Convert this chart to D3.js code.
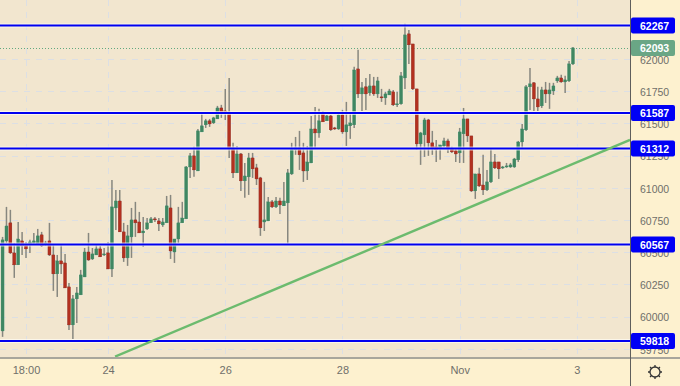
<!DOCTYPE html>
<html><head><meta charset="utf-8">
<script src="https://cdn.jsdelivr.net/npm/d3@7"></script>
<style>
html,body{margin:0;padding:0;background:#fdf1cf;overflow:hidden}
svg{display:block}
text{font-family:"Liberation Sans",Arial,sans-serif}
</style></head><body><div id="chart"></div>
<script>
const opens=[59896,60595,60735,60502,60409,60595,60564,60572,60579,60572,60642,60572,60595,60486,60339,60440,60424,60238,59943,60145,60176,60315,60509,60455,60486,60533,60486,60502,60377,60851,60905,60665,60463,60626,60758,60742,60657,60688,60735,60766,60750,60719,60735,60851,60509,60610,60735,60766,61169,61255,61138,61441,61496,61527,61511,61542,61627,61604,61596,61317,61123,61270,61061,61092,61239,61162,61084,60742,60750,60898,60859,60905,60867,60890,61115,61302,61317,61278,61138,61200,61464,61433,61581,61527,61565,61472,61464,61573,61441,61488,61496,61930,61736,61791,61744,61798,61736,61713,61705,61728,61752,61651,61659,61860,62202,62124,61775,61348,61418,61534,61356,61325,61317,61332,61371,61309,61294,61278,61426,61542,61410,60983,61115,61029,60991,61053,61208,61208,61162,61169,61169,61169,61224,61363,61457,61791,61822,61697,61643,61767,61736,61759,61837,61860,61829,61837,61969];
const closes=[60603,60711,60502,60409,60610,60556,60533,60587,60595,60634,60556,60579,60486,60339,60440,60416,60230,59943,60145,60191,60331,60509,60447,60494,60533,60471,60494,60377,60859,60905,60665,60463,60634,60758,60735,60657,60672,60735,60766,60758,60727,60742,60867,60517,60610,60735,60773,61169,61255,61146,61449,61488,61527,61503,61550,61627,61596,61589,61309,61123,61270,61061,61099,61239,61154,61076,60696,60758,60898,60859,60905,60874,60905,61123,61309,61317,61263,61138,61208,61464,61433,61527,61519,61565,61457,61464,61573,61441,61496,61511,61922,61736,61783,61736,61798,61736,61837,61705,61736,61759,61651,61659,61876,62194,62117,61775,61348,61433,61534,61356,61317,61302,61340,61371,61309,61286,61270,61441,61542,61410,60983,61115,61022,60991,61053,61208,61162,61154,61169,61177,61185,61231,61363,61464,61791,61814,61697,61635,61767,61736,61767,61798,61860,61829,61845,61969,62093];
const highs=[60626,60859,60836,60579,60742,60665,60587,60603,60657,60688,60665,60595,60735,60564,60486,60564,60494,60269,60176,60238,60370,60540,60657,60540,60564,60556,60540,60587,61068,60991,60991,60735,60719,60851,60898,60820,60781,60773,60781,60781,60773,60773,60944,60952,60610,60859,60898,61177,61278,61325,61464,61589,61542,61542,61558,61643,61651,61775,61860,61356,61332,61278,61200,61278,61278,61193,61092,61053,60936,60913,60936,60929,61053,61154,61356,61402,61449,61356,61332,61565,61635,61620,61604,61573,61573,61480,61596,61612,61674,61589,61946,62078,61829,61860,61891,61868,61868,61775,61752,61775,61767,61752,61907,62280,62233,62124,61775,61441,61550,61542,61449,61379,61340,61395,61387,61325,61309,61472,61627,61542,61410,61115,61162,61263,61146,61309,61270,61208,61177,61200,61200,61239,61371,61503,61806,61938,61829,61791,61791,61829,61822,61822,61876,61884,61876,61992,62101];
const lows=[59850,60579,60494,60308,60409,60486,60463,60502,60572,60572,60548,60556,60478,60207,60160,60339,60230,59904,59834,59958,60176,60315,60440,60447,60486,60471,60478,60377,60315,60680,60665,60432,60401,60463,60626,60657,60548,60680,60735,60742,60672,60704,60735,60455,60424,60579,60735,60766,61084,61092,61138,61441,61472,61480,61503,61542,61550,61534,61239,61084,61123,60983,60929,60952,61084,61029,60634,60672,60750,60851,60851,60804,60867,60572,61107,61263,61146,61053,61068,61200,61317,61395,61519,61527,61449,61457,61457,61426,61332,61387,61472,61705,61604,61612,61721,61721,61705,61674,61651,61728,61643,61635,61651,61775,61969,61767,61302,61185,61247,61255,61263,61208,61224,61325,61278,61278,61208,61200,61200,61363,60975,60921,61014,60952,60983,61045,61154,61076,61154,61162,61162,61162,61208,61309,61449,61612,61604,61604,61627,61666,61620,61728,61822,61822,61744,61829,61961];

const levels=[62267,61587,61312,60567,59818];
const lastPrice=62093;
const yTicks=[59750,60000,60250,60500,60750,61000,61250,61500,61750,62000];
const xTickPos=[6,27,57,87,117,147];
const xTickLabels=["18:00","24","26","28","Nov","3"];
const trendIdx=[28.8,160.6];
const trendPrice=[59697,61379];

const W=680,H=386,plotW=630,plotH=357;
const svg=d3.select("#chart").append("svg").attr("width",W).attr("height",H);
const x=d3.scaleLinear().domain([-0.655,160.6]).range([0,plotW]);
const y=d3.scaleLinear().domain([59818,62267]).range([341,25.5]);

svg.append("rect").attr("width",W).attr("height",H).attr("fill","#fdf1cf");
svg.append("rect").attr("width",plotW).attr("height",plotH).attr("fill","#f2e6cf");
svg.append("defs").append("clipPath").attr("id","plot").append("rect").attr("width",plotW).attr("height",plotH);
const plot=svg.append("g").attr("clip-path","url(#plot)");

const grid="#dcdfe4";
plot.append("g").selectAll("line").data(yTicks).join("line")
  .attr("x1",0).attr("x2",plotW).attr("y1",d=>Math.round(y(d))-0.5).attr("y2",d=>Math.round(y(d))-0.5)
  .attr("stroke",grid).attr("stroke-dasharray","6 6");
plot.append("g").selectAll("line").data(xTickPos).join("line")
  .attr("x1",d=>Math.round(x(d))+0.5).attr("x2",d=>Math.round(x(d))+0.5).attr("y1",0).attr("y2",plotH)
  .attr("stroke",grid).attr("stroke-dasharray","6 6");

plot.append("line").attr("x1",0).attr("x2",plotW).attr("y1",Math.round(y(lastPrice))+0.5).attr("y2",Math.round(y(lastPrice))+0.5)
  .attr("stroke","#62a97f").attr("stroke-dasharray","1 2");

const idx=d3.range(opens.length);
const isUp=i=>closes[i]>=opens[i];
plot.append("g").selectAll("rect").data(idx).join("rect")
  .attr("x",i=>x(i)-2.5).attr("width",5)
  .attr("y",i=>y(Math.max(opens[i],closes[i]))-1)
  .attr("height",i=>Math.abs(y(opens[i])-y(closes[i]))+2)
  .attr("fill","#fbf6ea").attr("opacity",0.5);
plot.append("g").selectAll("line").data(idx).join("line")
  .attr("x1",i=>x(i)).attr("x2",i=>x(i)).attr("y1",i=>y(highs[i])).attr("y2",i=>y(lows[i]))
  .attr("stroke","#87877f").attr("stroke-width",1.5);

const levelG=plot.append("g");
levelG.selectAll("line.h").data(levels).join("line").attr("class","h")
  .attr("x1",0).attr("x2",plotW).attr("y1",d=>y(d)).attr("y2",d=>y(d))
  .attr("stroke","#fffdf5").attr("stroke-width",4).attr("opacity",0.7);

plot.append("g").selectAll("rect").data(idx).join("rect")
  .attr("x",i=>x(i)-1.5).attr("width",3)
  .attr("y",i=>y(Math.max(opens[i],closes[i])))
  .attr("height",i=>Math.max(1,Math.abs(y(opens[i])-y(closes[i]))))
  .attr("fill",i=>isUp(i)?"#3f8762":"#b3301f")
  .attr("stroke",i=>isUp(i)?"#3f8762":"#8c2a1c").attr("stroke-width",0.4);

levelG.raise();
levelG.selectAll("line.b").data(levels).join("line").attr("class","b")
  .attr("x1",0).attr("x2",plotW).attr("y1",d=>y(d)).attr("y2",d=>y(d))
  .attr("stroke","#0000f0").attr("stroke-width",2);

plot.append("line")
  .attr("x1",x(trendIdx[0])).attr("y1",y(trendPrice[0]))
  .attr("x2",x(trendIdx[1])).attr("y2",y(trendPrice[1]))
  .attr("stroke","#6cbb6e").attr("stroke-width",2.4);

const yAxis=d3.axisRight(y).tickValues(yTicks).tickSize(0).tickPadding(10).tickFormat(d3.format("d"));
const ya=svg.append("g").attr("transform",`translate(${plotW},0)`).call(yAxis);
ya.select(".domain").remove();
ya.selectAll("text").attr("font-size",10.5).attr("fill","#6f6f6a").style("font-family",'"Liberation Sans",Arial,sans-serif');

const xAxis=d3.axisBottom(x).tickValues(xTickPos).tickSize(0).tickPadding(9).tickFormat((d,i)=>xTickLabels[i]);
const xa=svg.append("g").attr("transform",`translate(0,${plotH})`).call(xAxis);
xa.select(".domain").remove();
xa.selectAll("text").attr("font-size",11).attr("fill","#6f6f6a").style("font-family",'"Liberation Sans",Arial,sans-serif');

svg.append("rect").attr("x",0).attr("y",plotH).attr("width",W).attr("height",2).attr("fill","#a8a69c");
svg.append("rect").attr("x",plotW).attr("y",0).attr("width",1).attr("height",H).attr("fill","#5f5f5c");

function tag(v,fill){
  const g=svg.append("g").attr("transform",`translate(${plotW+1},${y(v)})`);
  g.append("rect").attr("x",0).attr("y",-8).attr("width",44).attr("height",16).attr("rx",2).attr("fill",fill);
  g.append("text").attr("x",9).attr("y",4).attr("font-size",10.5).attr("font-weight","bold").attr("fill","#fff").text(v);
}
levels.forEach(v=>tag(v,"#0000f5"));
tag(lastPrice,"#6aa685");

const gear=svg.append("g").attr("transform","translate(655,372)").attr("fill","none").attr("stroke","#333").attr("stroke-width",1.3);
gear.append("circle").attr("r",5);
d3.range(8).forEach(k=>{
  const a=k*Math.PI/4;
  gear.append("line").attr("x1",5*Math.cos(a)).attr("y1",5*Math.sin(a)).attr("x2",7*Math.cos(a)).attr("y2",7*Math.sin(a));
});
</script></body></html>
